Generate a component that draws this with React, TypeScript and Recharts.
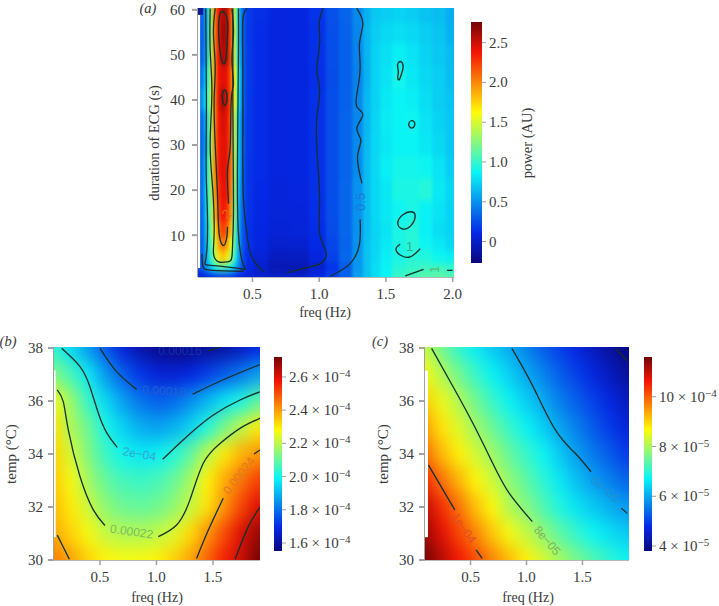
import { ScatterChart, Scatter, XAxis, YAxis, ReferenceArea } from 'recharts'

// panel (a): power by duration (rows) and frequency (columns)
const aFreq = [0.1, 0.13, 0.16, 0.19, 0.22, 0.25, 0.28, 0.31, 0.34, 0.37, 0.4, 0.43, 0.47, 0.55, 0.7, 0.85, 1.0, 1.1, 1.2, 1.3, 1.36, 1.42, 1.5, 1.6, 1.7, 1.8, 1.9, 2.0]
const aDuration = [59, 55, 50, 45, 40, 35, 30, 25, 20, 15, 11, 8, 5, 2.5, 1]
const aPower = [
  [.30, .34, .62, 1.25, 2.0, 2.4, 2.6, 2.56, 2.2, 1.4, .72, .32, .17, .13, .08, .09, .15, .26, .33, .47, .62, .70, .72, .74, .72, .68, .66, .6],
  [.27, .32, .62, 1.28, 2.0, 2.42, 2.64, 2.6, 2.2, 1.45, .72, .32, .16, .12, .08, .09, .14, .25, .32, .46, .63, .72, .76, .78, .76, .72, .68, .62],
  [.27, .33, .65, 1.3, 2.0, 2.42, 2.6, 2.56, 2.2, 1.45, .75, .33, .17, .12, .08, .09, .14, .25, .32, .45, .63, .74, .79, .84, .8, .74, .7, .65],
  [.3, .45, .8, 1.35, 2.0, 2.38, 2.45, 2.42, 2.15, 1.65, .85, .35, .17, .12, .08, .09, .13, .24, .32, .44, .62, .74, .8, .9, .82, .76, .72, .66],
  [.32, .55, .9, 1.4, 2.0, 2.42, 2.62, 2.46, 2.18, 1.6, .82, .34, .16, .12, .08, .09, .14, .25, .32, .46, .64, .74, .82, .86, .84, .78, .72, .68],
  [.28, .38, .72, 1.33, 2.0, 2.38, 2.48, 2.42, 2.15, 1.42, .72, .32, .16, .12, .08, .09, .14, .25, .33, .46, .64, .75, .83, .86, .88, .8, .74, .7],
  [.28, .36, .68, 1.3, 2.0, 2.36, 2.44, 2.42, 2.12, 1.4, .72, .32, .16, .12, .08, .09, .14, .25, .33, .47, .65, .76, .82, .86, .86, .82, .76, .7],
  [.28, .4, .78, 1.35, 2.0, 2.36, 2.44, 2.42, 2.1, 1.35, .7, .3, .15, .12, .08, .09, .14, .25, .33, .47, .66, .76, .84, .9, .9, .88, .8, .72],
  [.28, .4, .8, 1.3, 1.95, 2.3, 2.42, 2.4, 2.05, 1.3, .65, .3, .15, .11, .07, .08, .14, .25, .34, .5, .66, .76, .82, .92, .92, .95, .82, .75],
  [.28, .38, .78, 1.25, 1.82, 2.22, 2.38, 2.32, 1.98, 1.25, .62, .28, .15, .1, .06, .07, .13, .25, .34, .5, .66, .76, .82, .88, .92, .85, .8, .74],
  [.28, .36, .72, 1.15, 1.65, 2.08, 2.25, 2.15, 1.82, 1.15, .6, .28, .14, .09, .05, .06, .12, .24, .34, .5, .66, .75, .8, .92, .95, .85, .78, .74],
  [.26, .34, .68, 1.08, 1.5, 1.9, 2.05, 1.95, 1.6, 1.08, .58, .27, .14, .08, .02, .03, .11, .22, .33, .5, .68, .75, .82, .92, .96, .88, .82, .76],
  [.26, .34, .62, .98, 1.35, 1.68, 1.8, 1.7, 1.4, .98, .55, .25, .12, .05, -.03, -.02, .08, .2, .34, .52, .68, .76, .84, .92, .96, .94, .88, .84],
  [.25, .32, .5, .7, .88, 1.02, 1.08, 1.02, .88, .66, .42, .22, .1, .01, -.08, -.08, .02, .15, .3, .52, .68, .78, .86, .96, 1.0, 1.02, 1.02, 1.0],
  [.05, .08, .12, .15, .18, .2, .2, .2, .18, .15, .1, .08, .06, .02, 0, .02, .1, .2, .32, .55, .68, .78, .86, 1.02, 1.06, 1.1, 1.12, 1.08],
]

const aContours = [
  [[1.282, 60.3], [1.327, 57], [1.302, 52.6], [1.307, 47.4], [1.287, 42.2], [1.282, 38.5], [1.327, 36.7], [1.282, 33.7], [1.312, 31.1], [1.287, 27.4], [1.32, 21.5]],
  [[1.307, 13.5], [1.302, 8.1], [1.232, 3.7], [1.083, 0.9]],
  [[1.028, 60.3], [1.0, 57], [1.003, 52.6], [0.983, 46.7], [1.003, 42.2], [0.983, 36.3], [0.983, 28.9], [1.003, 17.8], [1.003, 10.4], [1.053, 5.9], [1.008, 3.7], [0.932, 3.0], [0.758, 1.7]],
  [[0.458, 60.3], [0.428, 57.8], [0.428, 47.4], [0.428, 30], [0.433, 17.8], [0.458, 10.4], [0.495, 5.2], [0.583, 1.9]],
  [[0.221, 60.3], [0.208, 54.8], [0.221, 47.4], [0.213, 40], [0.221, 30], [0.238, 19.3], [0.246, 11.9], [0.263, 8.5], [0.288, 7.8], [0.308, 9.6], [0.313, 11.9]],
  [[0.321, 17], [0.313, 24.5], [0.333, 29.6], [0.341, 40], [0.358, 43.7], [0.346, 48.9], [0.358, 54.8], [0.346, 60.3]],
  [[0.183, 60.3], [0.183, 51.1], [0.196, 41.5], [0.183, 30], [0.203, 20], [0.213, 10.4], [0.208, 5.9], [0.246, 4.1], [0.313, 4.1], [0.346, 5.2], [0.353, 9.6], [0.358, 17], [0.353, 40], [0.353, 60.3]],
  [[0.15, 60.3], [0.155, 40], [0.153, 24.5], [0.163, 14.1], [0.153, 5.2], [0.183, 3.3], [0.408, 2.6], [0.433, 3.3], [0.395, 10.4], [0.388, 26.7], [0.395, 50], [0.395, 60.3]],
  [[0.121, 5.9], [0.13, 3.0], [0.2, 2.2], [0.433, 2.0]],
  [[1.782, 2.4], [1.645, 1]],
  [[1.957, 2.2], [2.0, 2.2]],
  [[1.607, 8], [1.575, 7], [1.607, 5.6], [1.682, 5.2], [1.757, 7]],
]
const aLoops = [
  [[0.283, 59.9], [0.322, 57.8], [0.31, 53.3], [0.305, 48], [0.27, 47.6], [0.25, 52.6], [0.243, 57], [0.258, 59.6]],
  [[0.291, 43], [0.318, 40.7], [0.296, 37.8], [0.264, 40.7]],
  [[1.61, 49], [1.638, 47.4], [1.612, 45.5], [1.602, 44.2], [1.582, 44.8], [1.6, 46.3], [1.578, 47.8]],
  [[1.694, 35.8], [1.728, 34.7], [1.694, 33.3], [1.66, 34.6]],
  [[1.73, 14.8], [1.7, 12], [1.62, 10.9], [1.572, 12.7], [1.625, 14.8], [1.69, 15.4]],
]
const aLabels = [
  { x: 1.315, y: 17.4, text: '0.5', angle: -90, color: '#1c78d8', size: 13 },
  { x: 1.677, y: 7.4, text: '1', angle: 0, color: '#2cb090', size: 13 },
  { x: 1.864, y: 2.4, text: '1', angle: -90, color: '#50c070', size: 13 },
  { x: 0.67, y: 1.6, text: '0', angle: 0, color: '#0a20c0', size: 13 },
  { x: 0.308, y: 14.6, text: '2', angle: -40, color: '#d87018', size: 13 },
]

// panels (b) and (c) share one grid, values are x 1e-4 and x 1e-5
const tempFreq = [0.1, 0.25, 0.4, 0.55, 0.7, 0.85, 1.0, 1.15, 1.3, 1.45, 1.6, 1.75, 1.9]
const temps = [38, 37, 36, 35, 34, 33, 32, 31, 30]
const bPower = [
  [2.03, 1.95, 1.86, 1.77, 1.68, 1.62, 1.58, 1.56, 1.57, 1.59, 1.61, 1.65, 1.7],
  [2.13, 2.06, 1.97, 1.86, 1.78, 1.72, 1.68, 1.67, 1.69, 1.73, 1.77, 1.81, 1.87],
  [2.26, 2.16, 2.04, 1.95, 1.87, 1.81, 1.78, 1.79, 1.84, 1.9, 1.96, 2.01, 2.09],
  [2.31, 2.18, 2.11, 2.01, 1.94, 1.89, 1.87, 1.89, 1.94, 2.02, 2.12, 2.2, 2.3],
  [2.33, 2.23, 2.13, 2.05, 2.0, 1.97, 1.98, 2.02, 2.09, 2.2, 2.3, 2.37, 2.41],
  [2.34, 2.27, 2.17, 2.1, 2.06, 2.05, 2.06, 2.1, 2.17, 2.29, 2.38, 2.45, 2.52],
  [2.36, 2.3, 2.22, 2.15, 2.11, 2.1, 2.11, 2.15, 2.21, 2.31, 2.41, 2.51, 2.6],
  [2.38, 2.33, 2.27, 2.21, 2.19, 2.19, 2.2, 2.24, 2.32, 2.41, 2.5, 2.6, 2.68],
  [2.44, 2.39, 2.33, 2.29, 2.27, 2.27, 2.29, 2.33, 2.39, 2.47, 2.56, 2.62, 2.72],
]
const bContours = [
  [[0.122, 36.42], [0.175, 35.98], [0.22, 34.9], [0.323, 33.15], [0.441, 31.89], [0.544, 31.3]],
  [[1.016, 30.88], [1.178, 31.32], [1.296, 32.27], [1.414, 33.65], [1.562, 34.4], [1.739, 34.97], [1.916, 35.35]],
  [[0.161, 37.99], [0.323, 37.3], [0.41, 36.55], [0.485, 35.55], [0.56, 34.8], [0.653, 34.25]],
  [[1.055, 33.8], [1.267, 34.65], [1.503, 35.47], [1.739, 36.04], [1.916, 36.35]],
  [[0.5, 37.99], [0.647, 37.11], [0.824, 36.44]],
  [[1.32, 36.26], [1.621, 36.86], [1.916, 37.38]],
  [[1.459, 37.89], [1.562, 38.03]],
  [[1.355, 30.06], [1.459, 31.13], [1.591, 32.33]],
  [[1.863, 34], [1.916, 34.15]],
  [[1.695, 30.03], [1.813, 31.26], [1.916, 32.0]],
  [[0.122, 30.94], [0.229, 30.03]],
]
const bLabels = [
  { x: 0.78, y: 31.07, text: '0.00022', angle: 8, color: '#78bc5c', size: 12 },
  { x: 0.848, y: 34, text: '2e\u221204', angle: 10, color: '#30a8d0', size: 12 },
  { x: 1.066, y: 36.38, text: '0.00018', angle: 3, color: '#2060d8', size: 12 },
  { x: 1.208, y: 37.9, text: '0.00016', angle: 0, color: '#1030b0', size: 12 },
  { x: 1.73, y: 33.18, text: '0.00024', angle: -52, color: '#e07a20', size: 12 },
]

const cPower = [
  [8.2, 7.55, 7.05, 6.65, 6.3, 6.03, 5.65, 5.3, 5.0, 4.7, 4.4, 4.1, 3.85],
  [8.6, 8.05, 7.55, 7.1, 6.7, 6.35, 6.0, 5.65, 5.3, 5.0, 4.7, 4.4, 4.1],
  [9.05, 8.5, 8.05, 7.55, 7.1, 6.7, 6.35, 6.0, 5.6, 5.3, 5.0, 4.7, 4.4],
  [9.45, 8.85, 8.4, 7.9, 7.5, 7.1, 6.7, 6.35, 5.95, 5.6, 5.25, 4.95, 4.65],
  [9.85, 9.2, 8.75, 8.3, 7.9, 7.45, 7.1, 6.75, 6.3, 5.9, 5.55, 5.25, 4.95],
  [10.45, 9.8, 9.25, 8.7, 8.25, 7.8, 7.4, 7.0, 6.6, 6.2, 5.9, 5.6, 5.35],
  [11.0, 10.4, 9.8, 9.15, 8.65, 8.05, 7.7, 7.3, 6.9, 6.55, 6.3, 6.05, 5.85],
  [11.3, 10.75, 10.2, 9.65, 9.1, 8.6, 8.2, 7.8, 7.4, 7.05, 6.75, 6.5, 6.3],
  [11.6, 11.1, 10.6, 10.15, 9.65, 9.2, 8.75, 8.35, 7.95, 7.6, 7.3, 7.0, 6.75],
]
const cContours = [
  [[0.152, 37.99], [0.344, 36.54], [0.521, 35.16], [0.698, 33.65], [0.845, 32.52], [1.052, 31.45]],
  [[0.869, 37.99], [1.052, 36.6], [1.258, 34.91], [1.435, 34.03], [1.577, 33.33]],
  [[1.848, 31.95], [1.901, 31.76]],
  [[0.123, 33.59], [0.359, 31.89]],
  [[0.55, 30.38], [0.604, 30.06]],
  [[1.795, 37.99], [1.9, 37.52]],
]
const cLabels = [
  { x: 1.185, y: 30.73, text: '8e\u221205', angle: 50, color: '#7cb060', size: 12 },
  { x: 1.701, y: 32.67, text: '6e\u221205', angle: 40, color: '#2090d0', size: 12 },
  { x: 0.438, y: 31.2, text: '1e\u221204', angle: 55, color: '#e05020', size: 12 },
]

const freqTicks = [0.5, 1.0, 1.5]
const freqTicksA = [0.5, 1.0, 1.5, 2.0]
const durationTicks = [10, 20, 30, 40, 50, 60]
const tempTicks = [30, 32, 34, 36, 38]
const aBarTicks = [0, 0.5, 1.0, 1.5, 2.0, 2.5]
const bBarTicks = [1.6, 1.8, 2.0, 2.2, 2.4, 2.6]
const cBarTicks = [4, 6, 8, 10]

const SERIF = "'Liberation Serif', serif"
const SANS = "'Liberation Sans', sans-serif"
const INK = '#3a3a3a'
const GREY = '#a0a0a0'
const LINE = '#16302c'

const jetStops: [number, number[]][] = [
  [0, [10, 8, 125]],
  [0.125, [5, 40, 230]],
  [0.375, [10, 245, 245]],
  [0.625, [255, 250, 10]],
  [0.875, [245, 20, 5]],
  [1, [115, 5, 5]],
]

function jet(t: number) {
  const v = Math.max(0, Math.min(1, t))
  for (let i = 1; i < jetStops.length; i++) {
    const [t1, c1] = jetStops[i]
    const [t0, c0] = jetStops[i - 1]
    if (v <= t1) {
      const k = (v - t0) / (t1 - t0)
      return `rgb(${c0.map((c, j) => Math.round(c + (c1[j] - c) * k)).join(',')})`
    }
  }
  return 'rgb(115,5,5)'
}

// cell edges sit halfway between neighbours, outer cells run past the plot and get clipped
function buildCells(xs: number[], ys: number[], rows: number[][]) {
  const cells: any[] = []
  rows.forEach((row, r) => {
    row.forEach((v, c) => {
      cells.push({
        x: xs[c],
        y: ys[r],
        v,
        x0: c === 0 ? xs[c] - 1 : (xs[c] + xs[c - 1]) / 2,
        x1: c === xs.length - 1 ? xs[c] + 1 : (xs[c] + xs[c + 1]) / 2,
        y1: r === 0 ? ys[r] + 40 : (ys[r] + ys[r - 1]) / 2,
        y0: r === ys.length - 1 ? ys[r] - 40 : (ys[r] + ys[r + 1]) / 2,
      })
    })
  })
  return cells
}

const toPoints = (pts: number[][]) => pts.map(([x, y]) => ({ x, y }))

function NoDot() {
  return <g />
}

function ContourText(props: any) {
  const { cx, cy, payload } = props
  return (
    <text x={cx} y={cy} dy={4} textAnchor="middle" fontFamily={SANS} fontSize={payload.size} fill={payload.color}
      transform={`rotate(${payload.angle} ${cx} ${cy})`}>
      {payload.text}
    </text>
  )
}

function HeatPanel(props: any) {
  const { id, left, top, width, height, plot, xDomain, yDomain, xTicks, yTicks, yGap, cells, range, contours, loops, labels, blur, children } = props
  const pxX = plot.w / (xDomain[1] - xDomain[0])
  const pxY = plot.h / (yDomain[1] - yDomain[0])
  const heatShape = (p: any) => {
    const d = p.payload
    return (
      <rect
        x={p.cx + (d.x0 - d.x) * pxX - 0.4}
        y={p.cy - (d.y1 - d.y) * pxY - 0.4}
        width={(d.x1 - d.x0) * pxX + 0.8}
        height={(d.y1 - d.y0) * pxY + 0.8}
        fill={jet((d.v - range[0]) / (range[1] - range[0]))}
      />
    )
  }
  return (
    <div style={{ position: 'absolute', left, top }}>
      <style>{`.heat-${id}{filter:url(#blur-${id});clip-path:url(#clip-${id})}`}</style>
      <ScatterChart width={width} height={height}
        margin={{ top: plot.y, left: plot.x - 40, right: width - plot.x - plot.w, bottom: height - plot.y - plot.h - 30 }}>
        <defs>
          <filter id={`blur-${id}`} filterUnits="userSpaceOnUse" x={-200} y={-200} width={1200} height={1200} colorInterpolationFilters="sRGB">
            <feGaussianBlur stdDeviation={blur} />
          </filter>
          <clipPath id={`clip-${id}`}>
            <rect x={plot.x} y={plot.y} width={plot.w} height={plot.h} />
          </clipPath>
        </defs>
        <XAxis type="number" dataKey="x" domain={xDomain} ticks={xTicks} interval={0} height={30}
          tickFormatter={(v: number) => v.toFixed(1)} tick={{ fontFamily: SERIF, fontSize: 15, fill: INK }}
          stroke={GREY} strokeWidth={1.5} tickSize={5} tickMargin={6} allowDataOverflow />
        <YAxis type="number" dataKey="y" domain={yDomain} ticks={yTicks} interval={0} width={40}
          tick={{ fontFamily: SERIF, fontSize: 15, fill: INK }}
          stroke={GREY} strokeWidth={2} tickSize={6} tickMargin={yGap} allowDataOverflow />
        <Scatter className={`heat-${id}`} data={cells} shape={heatShape} isAnimationActive={false} />
        {contours.map((pts: number[][], i: number) => (
          <Scatter key={`c${i}`} data={toPoints(pts)} line={{ stroke: LINE, strokeWidth: 1.3 }} lineType="joint"
            lineJointType="natural" shape={NoDot} isAnimationActive={false} />
        ))}
        {(loops || []).map((pts: number[][], i: number) => (
          <Scatter key={`l${i}`} data={toPoints(pts)} line={{ stroke: LINE, strokeWidth: 1.4 }} lineType="joint"
            lineJointType="basisClosed" shape={NoDot} isAnimationActive={false} />
        ))}
        <Scatter data={labels} shape={ContourText} isAnimationActive={false} />
        {children}
      </ScatterChart>
    </div>
  )
}

function BarTick(props: any) {
  const { x, y, payload, exp } = props
  const v = payload.value
  const power = exp === 'b' ? '\u22124' : v === 10 ? '\u22124' : '\u22125'
  const text = exp === 'a' ? v.toFixed(1).replace(/^0\.0$/, '0') : exp === 'b' ? `${v.toFixed(1)} \u00d7 10` : `${v} \u00d7 10`
  return (
    <text x={x} y={y} dy={5} fontFamily={SERIF} fontSize={15} fill={INK}>
      {text}
      {exp !== 'a' && <tspan dy={-5} fontSize={11}>{power}</tspan>}
    </text>
  )
}

function ColorBar(props: any) {
  const { id, left, top, height, domain, ticks, exp } = props
  return (
    <div style={{ position: 'absolute', left, top }}>
      <ScatterChart width={100} height={height + 20} margin={{ top: 10, bottom: 10, left: 0, right: 100 - props.barWidth - 76 }}>
        <defs>
          <linearGradient id={`bar-${id}`} x1="0" y1="1" x2="0" y2="0">
            {jetStops.map(([t]) => (
              <stop key={t} offset={t} stopColor={jet(t)} />
            ))}
          </linearGradient>
        </defs>
        <XAxis type="number" dataKey="x" domain={[0, 1]} hide />
        <YAxis type="number" dataKey="y" orientation="right" domain={domain} ticks={ticks} interval={0} width={76}
          tick={<BarTick exp={exp} />} stroke={GREY} axisLine={false} tickSize={4} tickMargin={3} />
        <ReferenceArea x1={0} x2={1} y1={domain[0]} y2={domain[1]} fill={`url(#bar-${id})`} fillOpacity={1} stroke="none" />
        <Scatter data={ticks.map((y: number) => ({ x: 0.5, y }))} shape={NoDot} isAnimationActive={false} />
      </ScatterChart>
    </div>
  )
}

function Caption({ x, y, text, angle = 0, italic = false, size = 14 }: any) {
  return (
    <text x={x} y={y} textAnchor="middle" fontFamily={SERIF} fontSize={size} fontStyle={italic ? 'italic' : 'normal'} fill={INK}
      transform={angle ? `rotate(${angle} ${x} ${y})` : undefined}>
      {text}
    </text>
  )
}

const aCells = buildCells(aFreq, aDuration, aPower)
const bCells = buildCells(tempFreq, temps, bPower)
const cCells = buildCells(tempFreq, temps, cPower)

export default function App() {
  return (
    <div style={{ position: 'absolute', left: 0, top: 0, width: 719, height: 606, background: '#fff', overflow: 'hidden' }}>
      <HeatPanel id="a" left={0} top={0} width={470} height={325} plot={{ x: 198, y: 8, w: 256, h: 269 }}
        xDomain={[0.092, 2.01]} yDomain={[0.73, 60.4]} xTicks={freqTicksA} yTicks={durationTicks} yGap={7} cells={aCells}
        range={[-0.27, 2.76]} contours={aContours} loops={aLoops} labels={aLabels} blur="1.6 3">
        <ReferenceArea x1={0.092} x2={0.108} y1={2.7} y2={58.9} fill="#fff" fillOpacity={1} stroke="none" zIndex={700} />
        <ReferenceArea x1={0.092} x2={0.13} y1={58.9} y2={60.4} fill="#0a1a90" fillOpacity={1} stroke="none" zIndex={700} />
        <Caption x={325} y={317} text="freq (Hz)" />
        <Caption x={159} y={143} text="duration of ECG (s)" angle={-90} size={14.5} />
        <Caption x={148} y={13} text="(a)" italic size={14.5} />
      </HeatPanel>
      <ColorBar id="a" left={471} top={12} height={241} barWidth={11} domain={[-0.27, 2.76]} ticks={aBarTicks} exp="a" />
      <svg style={{ position: 'absolute', left: 515, top: 60 }} width={25} height={170}>
        <Caption x={17} y={83} text="power (AU)" angle={-90} size={14.5} />
      </svg>

      <HeatPanel id="b" left={0} top={330} width={265} height={276} plot={{ x: 54, y: 17, w: 206, h: 213 }}
        xDomain={[0.093, 1.916]} yDomain={[30, 38.04]} xTicks={freqTicks} yTicks={tempTicks} yGap={5} cells={bCells}
        range={[1.552, 2.72]} contours={bContours} labels={bLabels} blur="7 9">
        <ReferenceArea x1={0.093} x2={0.108} y1={30.86} y2={37.15} fill="#fff" fillOpacity={1} stroke="none" zIndex={700} />
        <Caption x={157} y={272} text="freq (Hz)" />
        <Caption x={16} y={124} text="temp (°C)" angle={-90} size={15} />
        <Caption x={8} y={16} text="(b)" italic size={14.5} />
      </HeatPanel>
      <ColorBar id="b" left={274} top={347} height={194} barWidth={8} domain={[1.552, 2.72]} ticks={bBarTicks} exp="b" />

      <HeatPanel id="c" left={365} top={330} width={270} height={276} plot={{ x: 60, y: 17, w: 204, h: 213 }}
        xDomain={[0.093, 1.916]} yDomain={[30, 38.04]} xTicks={freqTicks} yTicks={tempTicks} yGap={5} cells={cCells}
        range={[3.8, 11.6]} contours={cContours} labels={cLabels} blur="7 9">
        <ReferenceArea x1={0.093} x2={0.12} y1={30.86} y2={37.15} fill="#fff" fillOpacity={1} stroke="none" zIndex={700} />
        <Caption x={163} y={272} text="freq (Hz)" />
        <Caption x={23} y={124} text="temp (°C)" angle={-90} size={15} />
        <Caption x={15} y={16} text="(c)" italic size={14.5} />
      </HeatPanel>
      <ColorBar id="c" left={644} top={347} height={194} barWidth={8} domain={[3.8, 11.6]} ticks={cBarTicks} exp="c" />
    </div>
  )
}
